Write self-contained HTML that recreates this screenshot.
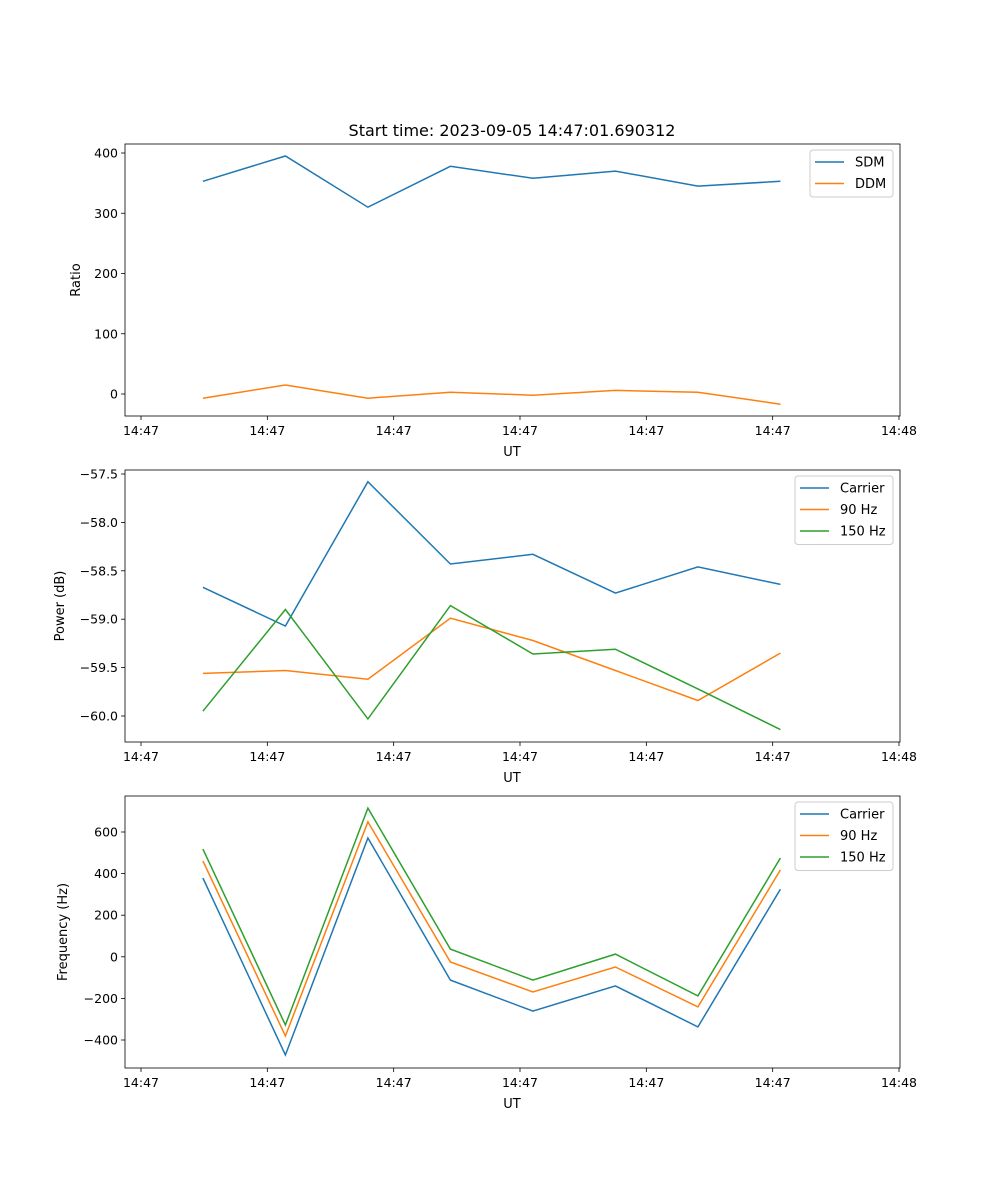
<!DOCTYPE html>
<html><head><meta charset="utf-8">
<style>
html,body{margin:0;padding:0;background:#fff;}
svg{display:block;font-family:"DejaVu Sans","Liberation Sans",sans-serif;}
</style></head>
<body>
<svg id="chart" width="1000" height="1200" viewBox="0 0 1000 1200" xmlns="http://www.w3.org/2000/svg">
<rect width="1000" height="1200" fill="#fff"/>
<text x="512" y="136" font-size="16" text-anchor="middle" fill="#000">Start time: 2023-09-05 14:47:01.690312</text>
</svg>
<script>
// time in seconds after 14:47:00
const times = [4.9, 11.43, 17.96, 24.49, 31.02, 37.55, 44.08, 50.61];
const xTickVals = [0, 10, 20, 30, 40, 50, 60];
const xTickLabels = ["14:47","14:47","14:47","14:47","14:47","14:47","14:48"];

const sdm = [353, 395, 310, 378, 358, 370, 345, 353];
const ddm = [-7, 15, -7, 3, -2, 6, 3, -17];
const ratioTicks = [0, 100, 200, 300, 400];

const powCarrier = [-58.67, -59.07, -57.58, -58.43, -58.33, -58.73, -58.46, -58.64];
const pow90 = [-59.56, -59.53, -59.62, -58.99, -59.22, -59.53, -59.84, -59.35];
const pow150 = [-59.95, -58.90, -60.03, -58.86, -59.36, -59.31, -59.72, -60.14];
const powTicks = [-57.5, -58.0, -58.5, -59.0, -59.5, -60.0];

const freqCarrier = [379, -472, 571, -112, -261, -140, -337, 325];
const freq90 = [461, -381, 649, -25, -169, -49, -241, 418];
const freq150 = [518, -328, 715, 37, -112, 13, -188, 475];
const freqTicks = [-400, -200, 0, 200, 400, 600];

const NS = "http://www.w3.org/2000/svg";
const svg = document.getElementById("chart");
function mk(tag, attrs, parent){
  const e = document.createElementNS(NS, tag);
  for (const k in attrs) e.setAttribute(k, attrs[k]);
  (parent||svg).appendChild(e);
  return e;
}
const L = 125, R = 900;
const xScale = t => 141 + (t/60)*(899-141);
const C = {blue:"#1f77b4", orange:"#ff7f0e", green:"#2ca02c"};

function panel(name, top, bottom, yA, yB, vA, vB, ticks, fmt, ylabel, series, legend){
  const g = mk("g", {});
  
  
  const yScale = v => yA + (v - vA) * (yB - yA) / (vB - vA);
  series.forEach(s => {
    const pts = s.vals.map((v,i) => xScale(times[i]).toFixed(1) + "," + yScale(v).toFixed(1)).join(" ");
    const pl = mk("polyline", {points: pts, fill: "none", stroke: s.color, "stroke-width": 1.5}, g);
    
    
  });
  const fr = mk("rect", {x: L, y: top, width: R-L, height: bottom-top, fill: "none", stroke: "#000", "stroke-width": 0.8}, g);
  
  
  xTickVals.forEach((t,i) => {
    const x = xScale(t);
    mk("line", {x1: x, x2: x, y1: bottom, y2: bottom+4, stroke: "#000", "stroke-width": 0.8}, g);
    const tx = mk("text", {x: x, y: bottom+19, "font-size": 12.5, "text-anchor": "middle"}, g);
    tx.textContent = xTickLabels[i];
    
    
  });
  const xl = mk("text", {x: 512, y: bottom+40, "font-size": 13, "text-anchor": "middle"}, g);
  xl.textContent = "UT";
  
  
  ticks.forEach(v => {
    const y = yScale(v);
    mk("line", {x1: L-4, x2: L, y1: y, y2: y, stroke: "#000", "stroke-width": 0.8}, g);
    const tx = mk("text", {x: L-7, y: y+4.5, "font-size": 12.5, "text-anchor": "end"}, g);
    tx.textContent = fmt(v);
    
    
  });
  const ly = (top+bottom)/2;
  const yl = mk("text", {x: 0, y: 0, "font-size": 13, "text-anchor": "middle", transform: `translate(${ylabel.x},${ly}) rotate(-90)`}, g);
  yl.textContent = ylabel.text;
  
  
  const lg = mk("g", {}, g);
  
  
  const h = 4 + series.length*21.5;
  mk("rect", {x: legend.x, y: top+6, width: R-7-legend.x, height: h, rx: 3, fill: "#fff", stroke: "#ccc", "stroke-width": 1, "fill-opacity": 0.8}, lg);
  series.forEach((s,i) => {
    const y = top + 18 + i*21.5;
    mk("line", {x1: legend.x+5, x2: legend.x+34, y1: y, y2: y, stroke: s.color, "stroke-width": 1.5}, lg);
    const t = mk("text", {x: legend.x+45, y: y+4.5, "font-size": 13}, lg);
    t.textContent = s.label;
    
    
  });
}
const minus = s => s.replace("-", "\u2212");

panel("ratio", 144, 416, 394, 153, 0, 400, ratioTicks, v => minus(String(v)),
  {x: 80, text: "Ratio"},
  [{key:"sdm", label:"SDM", color:C.blue, vals:sdm},{key:"ddm", label:"DDM", color:C.orange, vals:ddm}],
  {x: 810});
panel("power", 470, 742, 474, 716, -57.5, -60.0, powTicks, v => minus(v.toFixed(1)),
  {x: 64, text: "Power (dB)"},
  [{key:"carrier", label:"Carrier", color:C.blue, vals:powCarrier},{key:"90hz", label:"90 Hz", color:C.orange, vals:pow90},{key:"150hz", label:"150 Hz", color:C.green, vals:pow150}],
  {x: 795});
panel("frequency", 796, 1068, 832, 1040, 600, -400, freqTicks, v => minus(String(v)),
  {x: 67, text: "Frequency (Hz)"},
  [{key:"carrier", label:"Carrier", color:C.blue, vals:freqCarrier},{key:"90hz", label:"90 Hz", color:C.orange, vals:freq90},{key:"150hz", label:"150 Hz", color:C.green, vals:freq150}],
  {x: 795});
</script>
</body></html>
